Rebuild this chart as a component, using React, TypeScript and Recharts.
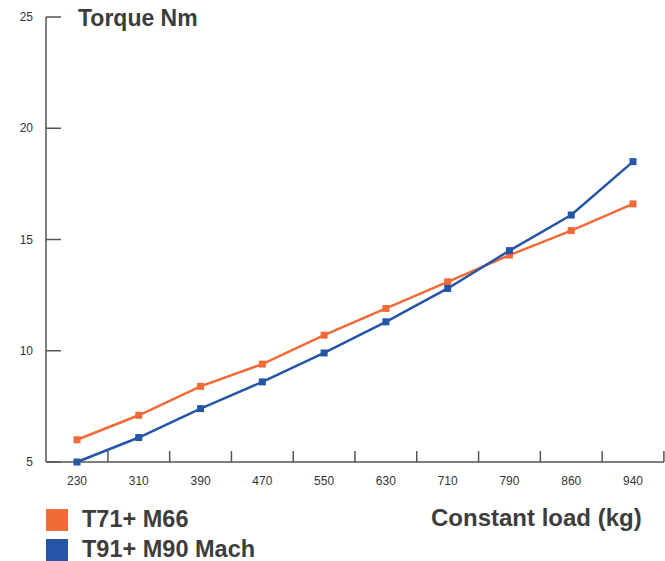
import React from "react";
import { LineChart, Line, XAxis, YAxis } from "recharts";

const loads = ["230", "310", "390", "470", "550", "630", "710", "790", "860", "940"];
const t71 = [6.0, 7.1, 8.4, 9.4, 10.7, 11.9, 13.1, 14.3, 15.4, 16.6];
const t91 = [5.0, 6.1, 7.4, 8.6, 9.9, 11.3, 12.8, 14.5, 16.1, 18.5];
const yTicks = [5, 10, 15, 20, 25];

const ORANGE = "#F26A35";
const BLUE = "#2455A6";
const AXIS = "#555555";
const TEXT = "#3d3d3d";
const FONT = "'Liberation Sans', Arial, Helvetica, sans-serif";

const series = [
  { key: "t71", name: "T71+ M66", color: ORANGE },
  { key: "t91", name: "T91+ M90 Mach", color: BLUE },
];

const data = loads.map((load, i) => ({ load, t71: t71[i], t91: t91[i] }));

function SquareDot(color: string) {
  return (props: any) => {
    const { cx, cy, index } = props;
    if (cx == null || cy == null) return null;
    return <rect key={index} x={cx - 3.5} y={cy - 3.5} width={7} height={7} fill={color} />;
  };
}

function YTick(props: any) {
  const { x, y, payload } = props;
  return (
    <g>
      <line x1={x} x2={x + 15} y1={y} y2={y} stroke={AXIS} strokeWidth={1.5} />
      <text x={x - 13} y={y + 4} textAnchor="end" fontSize={12} fill="#333" fontFamily={FONT}>
        {payload.value}
      </text>
    </g>
  );
}

// tick marks sit between categories, labels at the centre
function XTick(props: any) {
  const { x, y, payload, width } = props;
  const half = width / loads.length / 2;
  return (
    <g>
      <line x1={x + half} x2={x + half} y1={y} y2={y - 11} stroke={AXIS} strokeWidth={1.5} />
      <text x={x} y={y + 23} textAnchor="middle" fontSize={12} fill="#333" fontFamily={FONT}>
        {payload.value}
      </text>
    </g>
  );
}

export default function App() {
  const bold = { position: "absolute" as const, fontFamily: FONT, fontWeight: 700, fontSize: 23, color: TEXT, lineHeight: "23px", whiteSpace: "nowrap" as const };
  return (
    <div style={{ position: "absolute", left: 0, top: 0, width: 665, height: 561, background: "#fff" }}>
      <LineChart width={665} height={561} data={data} margin={{ top: 17, right: 1, left: 0, bottom: 69 }}>
        <XAxis
          dataKey="load"
          height={30}
          padding={{ left: 31, right: 31 }}
          tickSize={0}
          tickMargin={0}
          tickLine={false}
          axisLine={{ stroke: AXIS, strokeWidth: 1.5 }}
          tick={<XTick />}
          interval={0}
        />
        <YAxis
          width={46}
          domain={[5, 25]}
          ticks={yTicks}
          tickSize={0}
          tickMargin={0}
          tickLine={false}
          axisLine={{ stroke: AXIS, strokeWidth: 1.5 }}
          tick={<YTick />}
        />
        {series.map((s) => (
          <Line
            key={s.key}
            dataKey={s.key}
            name={s.name}
            type="linear"
            stroke={s.color}
            strokeWidth={2.5}
            dot={SquareDot(s.color)}
            activeDot={false}
            isAnimationActive={false}
          />
        ))}
      </LineChart>
      <div style={{ ...bold, left: 78, top: 7 }}>Torque Nm</div>
      <div style={{ ...bold, fontSize: 24, left: 431, top: 506 }}>Constant load (kg)</div>
      {series.map((s, i) => (
        <div key={s.key} style={{ position: "absolute", left: 46, top: 508 + i * 30, display: "flex", alignItems: "center" }}>
          <div style={{ width: 22, height: 22, background: s.color }} />
          <div style={{ ...bold, fontSize: 23.5, position: "static", marginLeft: 14 }}>{s.name}</div>
        </div>
      ))}
    </div>
  );
}
